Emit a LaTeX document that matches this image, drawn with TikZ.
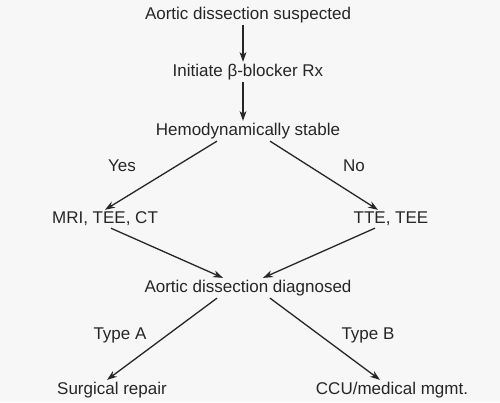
\documentclass[tikz,border=0pt]{standalone}
\usepackage{fontspec}
\setmainfont{Liberation Sans}
\usetikzlibrary{arrows.meta,positioning,calc}

\begin{document}
\begin{tikzpicture}[x=1pt,y=-1pt,>={Stealth[length=10pt,width=7pt]},
    font=\fontsize{17}{19}\selectfont,
    stepnode/.style={inner sep=2pt,text=black!85},
    lbl/.style={inner sep=1pt,text=black!85},
    flow/.style={->,line width=1.3pt,draw=black!85}]
  \fill[black!3] (0,0) rectangle (500,402);
  \useasboundingbox (0,0) rectangle (500,402);

  \node[stepnode] (susp) at (248,15) {Aortic dissection suspected};
  \node[stepnode] (beta) at (248,72) {Initiate β-blocker Rx};
  \node[stepnode] (hemo) at (248,131) {Hemodynamically stable};
  \node[stepnode] (mri) at (105,219) {MRI, TEE, CT};
  \node[stepnode] (tte) at (391,219) {TTE, TEE};
  \node[stepnode] (diag) at (248,288) {Aortic dissection diagnosed};
  \node[stepnode] (surg) at (112,390) {Surgical repair};
  \node[stepnode] (ccu) at (392,390) {CCU/medical mgmt.};

  \draw[flow] (susp.south -| 243,0) -- (beta.north -| 243,0);
  \draw[flow] (beta.south -| 243,0) -- (hemo.north -| 243,0);
  \draw[flow] ($(hemo.south)+(-31,0)$) -- (mri.north);
  \draw[flow] ($(hemo.south)+(22,0)$) -- (tte.north -| 378,0);
  \draw[flow] ($(mri.south)+(6,0)$) -- ($(diag.north)+(-25,0)$);
  \draw[flow] ($(tte.south)+(-16,0)$) -- ($(diag.north)+(15,0)$);
  \draw[flow] ($(diag.south)+(-31,0)$) -- ($(surg.north)+(-5,0)$);
  \draw[flow] ($(diag.south)+(22,0)$) -- ($(ccu.north)+(-12,0)$);

  \node[lbl] (yes) at (122,166) {Yes};
  \node[lbl] (no) at (354,166) {No};
  \node[lbl] (ta) at (120,335) {Type A};
  \node[lbl] (tb) at (368,335) {Type B};
\end{tikzpicture}
\end{document}
